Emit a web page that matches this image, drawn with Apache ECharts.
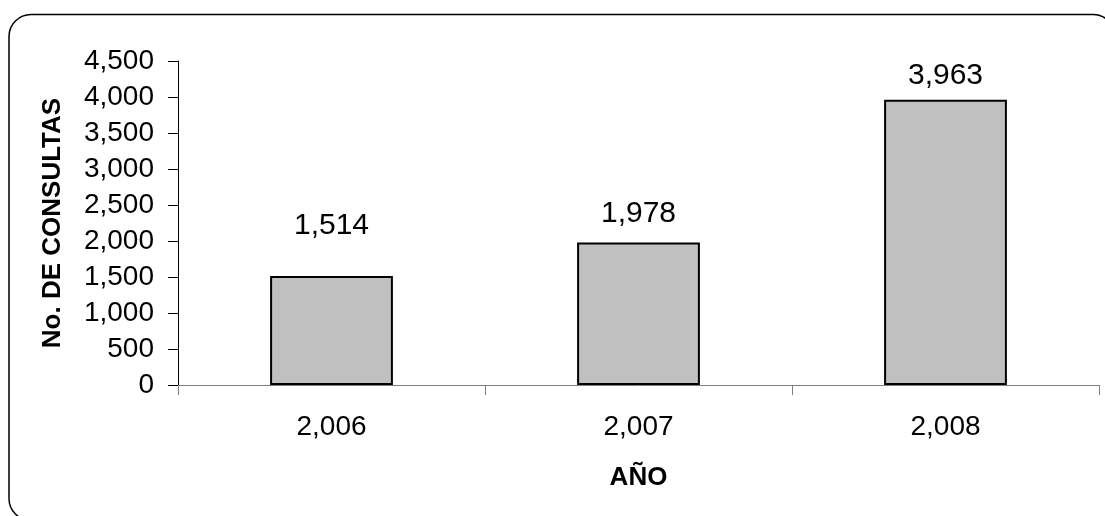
<!DOCTYPE html>
<html>
<head>
<meta charset="utf-8">
<title>No. de consultas por año</title>
<script src="https://cdn.jsdelivr.net/npm/echarts@6/dist/echarts.min.js"></script>
<style>
  html, body { margin: 0; padding: 0; background: #ffffff; }
  #chart { width: 1105px; height: 516px; }
</style>
</head>
<body>
<div id="chart"></div>
<script>
// Consultations per year
const years = [2006, 2007, 2008];
const consultas = [1514, 1978, 3963];
// Vertical gap between each bar top and its value label (px)
const labelGap = [35, 14, 9];

const yMin = 0;
const yMax = 4500;
const yStep = 500;

const FONT = '"Liberation Sans", Arial, sans-serif';

// 1234 -> "1,234"
function withCommas(n) {
  return String(n).replace(/\B(?=(\d{3})+(?!\d))/g, ',');
}

const chart = echarts.init(document.getElementById('chart'), null, { renderer: 'canvas' });

chart.setOption({
  backgroundColor: '#ffffff',
  animation: false,
  textStyle: { fontFamily: FONT, color: '#000' },
  graphic: [{
    type: 'rect',
    z: -1,
    shape: { x: 9, y: 14.5, width: 1106, height: 506, r: 22 },
    style: { fill: 'none', stroke: '#000', lineWidth: 1.5 }
  }],
  grid: { left: 178, right: 6, top: 61, bottom: 131, containLabel: false },
  xAxis: {
    type: 'category',
    data: years.map(withCommas),
    name: 'AÑO',
    nameLocation: 'middle',
    nameGap: 80,
    nameTextStyle: { fontFamily: FONT, fontSize: 26, fontWeight: 'bold', color: '#000' },
    axisLine: { lineStyle: { color: '#808080', width: 1 } },
    axisTick: { show: true, length: 10, inside: false, lineStyle: { color: '#808080' } },
    axisLabel: { fontFamily: FONT, fontSize: 28, color: '#000', margin: 28 },
    splitLine: { show: false }
  },
  yAxis: {
    type: 'value',
    min: yMin,
    max: yMax,
    interval: yStep,
    name: 'No. DE CONSULTAS',
    nameLocation: 'middle',
    nameRotate: 90,
    nameGap: 112,
    nameTextStyle: { fontFamily: FONT, fontSize: 26, fontWeight: 'bold', color: '#000' },
    axisLine: { show: true, lineStyle: { color: '#000', width: 1 } },
    axisTick: { show: true, length: 10, inside: false, lineStyle: { color: '#000' } },
    axisLabel: { fontFamily: FONT, fontSize: 28, color: '#000', margin: 24, formatter: v => withCommas(v) },
    splitLine: { show: false }
  },
  series: [{
    type: 'bar',
    barWidth: '40%',
    data: consultas.map((v, i) => ({
      value: v,
      label: { distance: labelGap[i] }
    })),
    itemStyle: { color: '#c0c0c0', borderColor: '#000', borderWidth: 2 },
    label: {
      show: true,
      position: 'top',
      fontFamily: FONT,
      fontSize: 30,
      color: '#000',
      formatter: p => withCommas(p.value)
    }
  }]
});
</script>
</body>
</html>
